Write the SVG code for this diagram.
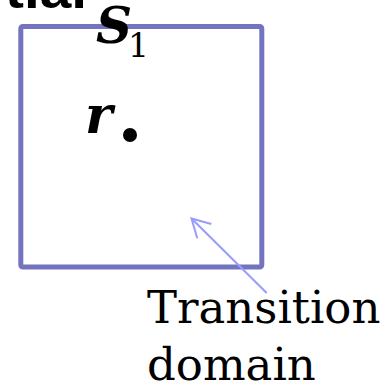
<svg xmlns="http://www.w3.org/2000/svg" width="385" height="385" viewBox="0 0 385 385">
  <style>
    .lbl { font-family: "DejaVu Serif", "Liberation Serif", serif; fill: #000; }
    .math { font-family: "DejaVu Serif", "Liberation Serif", serif; font-style: italic; font-weight: bold; fill: #000; }
    .conn { stroke: #9a9aff; stroke-width: 2; fill: none; }
  </style>
  <defs>
    <marker id="open" markerUnits="userSpaceOnUse" markerWidth="30" markerHeight="30" refX="0" refY="0" viewBox="-22 -15 30 30" orient="auto">
      <path d="M-18,-10 L0,0 L-18,10" fill="none" stroke="#9a9aff" stroke-width="2"/>
    </marker>
  </defs>
  <rect width="385" height="385" fill="#fff"/>
  <g id="heading-fragment">
    <text x="5" y="8" font-family="Liberation Sans, Arial, sans-serif" font-size="50" font-weight="bold" textLength="82" lengthAdjust="spacingAndGlyphs">tial</text>
  </g>
  <g id="domain-S1">
    <rect x="20.8" y="26.5" width="241" height="240.5" rx="2" fill="none" stroke="#7373bf" stroke-width="5"/>
    <text class="math" x="96" y="43" font-size="50">S</text>
    <text class="lbl" x="128" y="57" font-size="33">1</text>
  </g>
  <g id="point-r">
    <text class="math" x="85" y="133" font-size="52">r</text>
    <circle cx="130" cy="135" r="7" fill="#000"/>
  </g>
  <g id="transition-label">
    <text class="lbl" x="147" y="323" font-size="45">Transition</text>
    <text class="lbl" x="147" y="380" font-size="45">domain</text>
  </g>
  <g id="connectors">
    <line class="conn" x1="266.7" y1="293" x2="191.5" y2="218.5" marker-end="url(#open)"/>
  </g>
</svg>
